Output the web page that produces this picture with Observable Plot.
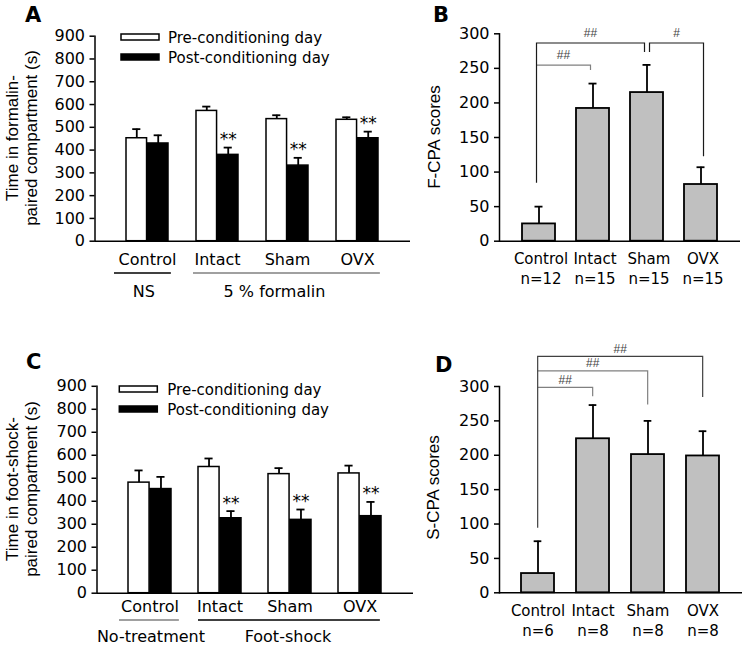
<!DOCTYPE html>
<html>
<head>
<meta charset="utf-8">
<script src="https://cdn.jsdelivr.net/npm/d3@7"></script>
<script src="https://cdn.jsdelivr.net/npm/@observablehq/plot@0.6"></script>
<style>
  html, body { margin: 0; padding: 0; background: #fff; }
  #fig { position: relative; width: 747px; height: 646px; overflow: hidden; background: #fff; }
</style>
</head>
<body>
<div id="fig"></div>
<script>
// ---------- data ----------
const groups = ["Control", "Intact", "Sham", "OVX"];
const timeTicks = [0, 100, 200, 300, 400, 500, 600, 700, 800, 900];
const scoreTicks = [0, 50, 100, 150, 200, 250, 300];
const legendLabels = ["Pre-conditioning day", "Post-conditioning day"];

// Panel A (formalin)
const formalinPre = [452, 572, 536, 533];
const formalinPreErr = [40, 19, 17, 11];
const formalinPost = [429, 379, 332, 452];
const formalinPostErr = [36, 32, 34, 29];
const formalinStars = ["", "**", "**", "**"];
const formalinTitle = ["Time in formalin-", "paired compartment (s)"];
const formalinGroupLabels = ["NS", "5 % formalin"];

// Panel B (F-CPA)
const fcpaScores = [25, 192, 215, 82];
const fcpaErr = [25, 36, 40, 25];
const fcpaN = [12, 15, 15, 15];
const fcpaBrackets = [
  {from: "Control", to: "Intact", top: 254, fromLow: null, toLow: 247, label: "##", color: "#808080", shift: -2},
  {from: "Control", to: "Sham", top: 286, fromLow: 84, toLow: 273, label: "##", color: "#1a1a1a", shift: -2},
  {from: "Sham", to: "OVX", top: 286, fromLow: 273, toLow: 122, label: "#", color: "#1a1a1a", shift: 3}
];

// Panel C (foot-shock)
const shockPre = [481, 549, 518, 521];
const shockPreErr = [53, 37, 26, 34];
const shockPost = [453, 326, 319, 335];
const shockPostErr = [53, 31, 45, 62];
const shockStars = ["", "**", "**", "**"];
const shockTitle = ["Time in foot-shock-", "paired compartment (s)"];
const shockGroupLabels = ["No-treatment", "Foot-shock"];

// Panel D (S-CPA)
const scpaScores = [28, 224, 201, 199];
const scpaErr = [47, 49, 49, 36];
const scpaN = [6, 8, 8, 8];
const scpaBrackets = [
  {from: "Control", to: "Intact", top: 298, fromLow: null, toLow: 285, label: "##", color: "#808080", shift: 0},
  {from: "Control", to: "Sham", top: 322, fromLow: null, toLow: 273, label: "##", color: "#808080", shift: 0},
  {from: "Control", to: "OVX", top: 343, fromLow: 94, toLow: 284, label: "##", color: "#404040", shift: 0}
];

// ---------- helpers ----------
const fig = document.getElementById("fig");
const FONT = "'DejaVu Sans', sans-serif";
const TITLEFONT = "'Liberation Sans', Arial, sans-serif";

function place(node, left, top) {
  node.style.position = "absolute";
  node.style.left = left + "px";
  node.style.top = top + "px";
  fig.appendChild(node);
}
function bandwidthOf(c) {
  const fw = c.width - c.mL - c.mR;
  const step = fw / (groups.length - c.pi + 2 * c.po);
  return step * (1 - c.pi);
}
function baseStyle() {
  return {background: "transparent", fontFamily: FONT, fontSize: "16px", color: "#000", overflow: "visible"};
}
function addLetter(svg, t, x, y) {
  svg.append("text").attr("x", x).attr("y", y).attr("font-family", FONT)
    .attr("text-anchor", "start")
    .attr("font-weight", "bold").attr("font-size", 21).attr("fill", "#000").text(t);
}
function addTitle(svg, lines, xs, cy) {
  lines.forEach((t, i) => {
    svg.append("text")
      .attr("transform", `translate(${xs[i]},${cy}) rotate(-90)`)
      .attr("text-anchor", "middle").attr("dominant-baseline", "central")
      .attr("font-family", TITLEFONT).attr("font-size", 17).attr("fill", "#000").text(t);
  });
}

// ---------- grouped (time) panels ----------
function timePanel(c) {
  const bw = bandwidthOf(c);
  const pre = groups.map((g, i) => ({group: g, value: c.pre[i], err: c.preErr[i]}));
  const post = groups.map((g, i) => ({group: g, value: c.post[i], err: c.postErr[i], star: c.stars[i]}));
  const cap = 9;
  const plot = Plot.plot({
    width: c.width, height: c.height,
    marginLeft: c.mL, marginRight: c.mR, marginTop: c.mT, marginBottom: c.mB,
    style: baseStyle(),
    x: {type: "band", domain: groups, paddingInner: c.pi, paddingOuter: c.po, axis: null},
    y: {domain: [0, 900]},
    marks: [
      Plot.ruleX(pre, {x: "group", y1: "value", y2: d => d.value + d.err, dx: -bw / 4, stroke: "#000", strokeWidth: 1.8}),
      Plot.tickY(pre, {x: "group", y: d => d.value + d.err, dx: -bw / 4, insetLeft: (bw - cap) / 2, insetRight: (bw - cap) / 2, stroke: "#000", strokeWidth: 1.8}),
      Plot.ruleX(post, {x: "group", y1: "value", y2: d => d.value + d.err, dx: bw / 4, stroke: "#000", strokeWidth: 1.8}),
      Plot.tickY(post, {x: "group", y: d => d.value + d.err, dx: bw / 4, insetLeft: (bw - cap) / 2, insetRight: (bw - cap) / 2, stroke: "#000", strokeWidth: 1.8}),
      Plot.barY(pre, {x: "group", y: "value", insetRight: bw / 2, fill: "#fff", stroke: "#000", strokeWidth: 1.5}),
      Plot.barY(post, {x: "group", y: "value", insetLeft: bw / 2, fill: "#000", stroke: "#000", strokeWidth: 1.5}),
      Plot.text(post.filter(d => d.star), {x: "group", y: d => d.value + d.err, text: "star", dx: bw / 4, dy: -8, fontSize: 17, fill: "#000"}),
      Plot.axisY({ticks: timeTicks, tickSize: 5, tickPadding: 5, tickFormat: d => String(d), fontSize: 16, label: null, strokeWidth: 1.5}),
      Plot.ruleY([0], {stroke: "#000", strokeWidth: 1.5}),
      Plot.frame({anchor: "left", stroke: "#000", strokeWidth: 1.5}),
      Plot.text(groups, {x: d => d, text: d => d, frameAnchor: "bottom", lineAnchor: "middle", dy: c.labelDy, fontSize: 16, fill: "#000"})
    ]
  });
  const svg = d3.select(plot);
  const xs = plot.scale("x"), ys = plot.scale("y");
  const base = ys.apply(0);
  c.underlines.forEach(u => {
    svg.append("line")
      .attr("x1", xs.apply(u.from) + u.d1).attr("x2", xs.apply(u.to) + bw + u.d2)
      .attr("y1", base + c.underlineDy).attr("y2", base + c.underlineDy)
      .attr("stroke", u.color).attr("stroke-width", 1.3);
  });
  c.groupLabels.forEach(gl => {
    svg.append("text")
      .attr("x", xs.apply(gl.g) + bw / 2 + gl.dx).attr("y", base + c.groupLabelDy)
      .attr("text-anchor", "middle").attr("dominant-baseline", "central")
      .attr("font-family", FONT).attr("font-size", 16).attr("fill", "#000").text(gl.text);
  });
  // legend
  const fills = ["#fff", "#000"];
  legendLabels.forEach((t, i) => {
    const ry = c.legend.y[i];
    svg.append("rect").attr("x", c.legend.x).attr("y", ry).attr("width", 38).attr("height", 6)
      .attr("fill", fills[i]).attr("stroke", "#000").attr("stroke-width", 1.5);
    svg.append("text").attr("x", c.legend.tx).attr("y", ry + 3.5)
      .attr("text-anchor", "start")
      .attr("dominant-baseline", "central").attr("font-family", FONT).attr("font-size", 15)
      .attr("fill", "#000").text(t);
  });
  addTitle(svg, c.title, c.titleX, c.titleCy);
  addLetter(svg, c.letter, c.letterX, c.letterY);
  place(plot, c.left, c.top);
}

// ---------- score panels ----------
function scorePanel(c) {
  const bw = bandwidthOf(c);
  const rows = groups.map((g, i) => ({group: g, value: c.values[i], err: c.err[i], n: c.n[i]}));
  const cap = 8;
  const plot = Plot.plot({
    width: c.width, height: c.height,
    marginLeft: c.mL, marginRight: c.mR, marginTop: c.mT, marginBottom: c.mB,
    style: baseStyle(),
    x: {type: "band", domain: groups, paddingInner: c.pi, paddingOuter: c.po, axis: null},
    y: {domain: [0, 300]},
    marks: [
      Plot.ruleX(rows, {x: "group", y1: "value", y2: d => d.value + d.err, stroke: "#000", strokeWidth: 1.8}),
      Plot.tickY(rows, {x: "group", y: d => d.value + d.err, insetLeft: (bw - cap) / 2, insetRight: (bw - cap) / 2, stroke: "#000", strokeWidth: 1.8}),
      Plot.barY(rows, {x: "group", y: "value", fill: "#c0c0c0", stroke: "#000", strokeWidth: 1.8}),
      Plot.axisY({ticks: scoreTicks, tickSize: 5, tickPadding: 5, tickFormat: d => String(d), fontSize: 16, label: null, strokeWidth: 1.5}),
      Plot.ruleY([0], {stroke: "#000", strokeWidth: 1.5}),
      Plot.frame({anchor: "left", stroke: "#000", strokeWidth: 1.5}),
      Plot.text(rows, {x: "group", text: "group", frameAnchor: "bottom", lineAnchor: "middle", dx: c.labelDx, dy: c.nameDy, fontSize: 15, fill: "#000"}),
      Plot.text(rows, {x: "group", text: d => "n=" + d.n, frameAnchor: "bottom", lineAnchor: "middle", dx: c.labelDx, dy: c.nDy, fontSize: 15, fill: "#000"})
    ]
  });
  const svg = d3.select(plot);
  const xs = plot.scale("x"), ys = plot.scale("y");
  c.brackets.forEach(b => {
    const xa = xs.apply(b.from) + bw / 2 + b.shift;
    const xb = xs.apply(b.to) + bw / 2 + b.shift;
    const yt = ys.apply(b.top);
    const pts = [];
    if (b.fromLow != null) pts.push([xa, ys.apply(b.fromLow)]);
    pts.push([xa, yt], [xb, yt], [xb, ys.apply(b.toLow)]);
    svg.append("path").attr("d", d3.line()(pts)).attr("fill", "none")
      .attr("stroke", b.color).attr("stroke-width", 1.2);
    svg.append("text").attr("x", (xa + xb) / 2).attr("y", yt - c.labelGap)
      .attr("text-anchor", "middle").attr("font-family", TITLEFONT).attr("font-size", 12)
      .attr("fill", "#444").text(b.label);
  });
  addTitle(svg, [c.title], [c.titleX], c.titleCy);
  addLetter(svg, c.letter, c.letterX, c.letterY);
  place(plot, c.left, c.top);
}

// ---------- build ----------
timePanel({
  left: 0, top: 0, width: 420, height: 320,
  mL: 94.5, mR: 10, mT: 35.7, mB: 79.3, pi: 0.393, po: 0.43,
  pre: formalinPre, preErr: formalinPreErr, post: formalinPost, postErr: formalinPostErr, stars: formalinStars,
  labelDy: 18.5,
  underlineDy: 32.3,
  underlines: [
    {from: "Control", to: "Control", d1: -12, d2: 2, color: "#000"},
    {from: "Intact", to: "OVX", d1: -3, d2: 1, color: "#808080"}
  ],
  groupLabelDy: 50.8,
  groupLabels: [{g: "Control", text: formalinGroupLabels[0], dx: -3.5}, {g: "Sham", text: formalinGroupLabels[1], dx: -13}],
  legend: {x: 121, y: [34, 54], tx: 168},
  title: formalinTitle, titleX: [12.5, 31], titleCy: 138,
  letter: "A", letterX: 25, letterY: 22
});

scorePanel({
  left: 420, top: 0, width: 327, height: 320,
  mL: 79, mR: 7, mT: 33.3, mB: 79.3, pi: 0.392, po: 0.415,
  values: fcpaScores, err: fcpaErr, n: fcpaN,
  labelDx: 2, nameDy: 18.3, nDy: 37.8,
  brackets: fcpaBrackets, labelGap: 6,
  title: "F-CPA scores", titleX: 14, titleCy: 137,
  letter: "B", letterX: 13, letterY: 22
});

timePanel({
  left: 0, top: 320, width: 420, height: 326,
  mL: 96.5, mR: 7, mT: 65.8, mB: 53.3, pi: 0.382, po: 0.42,
  pre: shockPre, preErr: shockPreErr, post: shockPost, postErr: shockPostErr, stars: shockStars,
  labelDy: 14,
  underlineDy: 27.3,
  underlines: [
    {from: "Control", to: "Control", d1: -9, d2: 7, color: "#808080"},
    {from: "Intact", to: "OVX", d1: 0, d2: -2, color: "#000"}
  ],
  groupLabelDy: 43.8,
  groupLabels: [{g: "Control", text: shockGroupLabels[0], dx: 1}, {g: "Sham", text: shockGroupLabels[1], dx: -2}],
  legend: {x: 119.3, y: [66, 86], tx: 167.3},
  title: shockTitle, titleX: [12.5, 31], titleCy: 169,
  letter: "C", letterX: 26, letterY: 49
});

scorePanel({
  left: 420, top: 320, width: 327, height: 326,
  mL: 79, mR: 5, mT: 66, mB: 53.7, pi: 0.395, po: 0.402,
  values: scpaScores, err: scpaErr, n: scpaN,
  labelDx: 0, nameDy: 18.2, nDy: 38.7,
  brackets: scpaBrackets, labelGap: 3.5,
  title: "S-CPA scores", titleX: 13.5, titleCy: 167.5,
  letter: "D", letterX: 15, letterY: 52.3
});
</script>
</body>
</html>
